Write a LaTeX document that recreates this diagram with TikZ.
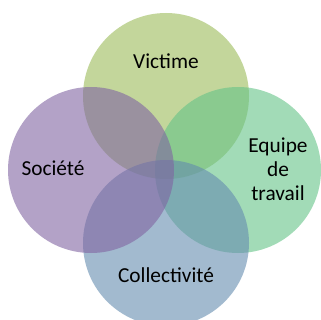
\documentclass[tikz,border=0pt]{standalone}
\usepackage{fontspec}
\setmainfont{Carlito}
\usepackage{tikz}
\definecolor{victimecol}{RGB}{155,187,89}
\definecolor{equipecol}{RGB}{100,195,135}
\definecolor{collcol}{RGB}{100,140,175}
\definecolor{societecol}{RGB}{128,100,162}
\tikzset{
    set/.style={circle,minimum size=124.5pt,inner sep=0pt,fill opacity=0.6},
    lbl/.style={font=\fontsize{16}{18}\selectfont,align=center,text=black}
}

\begin{document}
\begin{tikzpicture}[x=0.75pt,y=-0.75pt]
                        \useasboundingbox (0,0) rectangle (320,320);
                        % circles
                            \node[set,fill=victimecol] (victime) at (166,96) {};
                            \node[set,fill=equipecol] (equipe) at (238,170) {};
                            \node[set,fill=collcol] (coll) at (166,243) {};
                            \node[set,fill=societecol] (societe) at (91,170) {};
                        % labels
                            \node[lbl] (tv) at (166,61) {Victime};
                            \node[lbl] (te) at (278,169) {Equipe\\de\\travail};
                            \node[lbl] (tc) at (166,275) {Collectivité};
                            \node[lbl] (ts) at (53,168) {Société};
                        \end{tikzpicture}
\end{document}
